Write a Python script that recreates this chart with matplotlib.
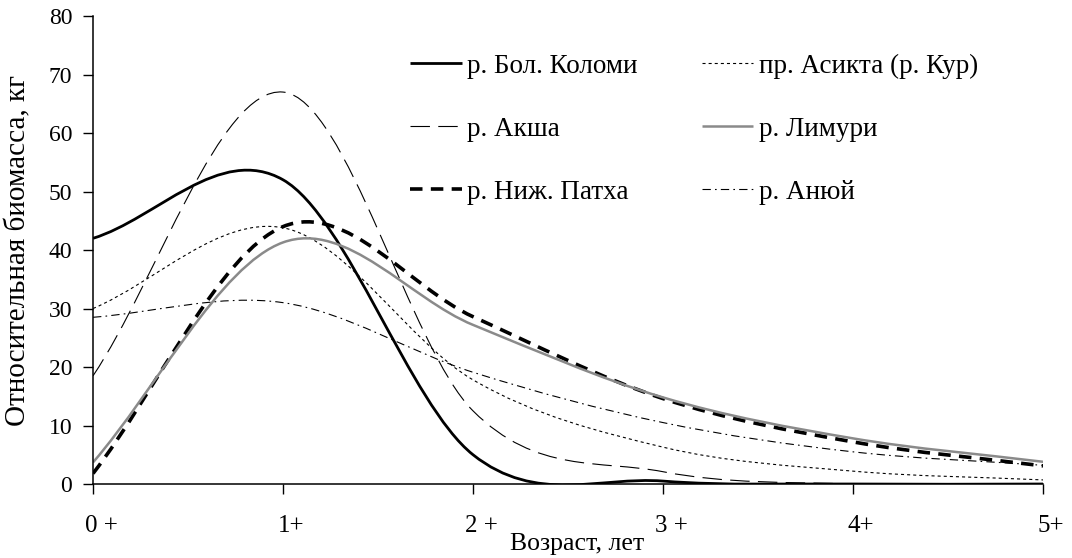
import matplotlib
matplotlib.use('Agg')
import matplotlib.pyplot as plt
import matplotlib.transforms as mtransforms
from matplotlib.path import Path
from matplotlib.patches import PathPatch
from matplotlib.lines import Line2D
import numpy as np

plt.rcParams['font.family'] = ['Liberation Serif', 'DejaVu Serif']
plt.rcParams['lines.scale_dashes'] = False

ages = [0, 1, 2, 3, 4, 5]
age_labels = ['0 +', '1+', '2 +', '3 +', '4+', '5+']

kolomi = [42, 52, 5, 0.5, 0, 0]
asikta = [30, 43.8, 17.8, 6.3, 2.2, 0.7]
aksha = [18.5, 67, 12.5, 2.1, 0, 0]
limuri = [3.7, 41.3, 27.2, 14.8, 7.8, 3.8]
patkha = [1.8, 44, 28.6, 14.6, 7.2, 3.1]
anyui = [28.5, 31, 19.1, 10.5, 5.5, 3.2]


def smooth_path(x, y):
    # excel-like smoothed line: cubic bezier, catmull-rom tangents
    x = np.asarray(x, float)
    y = np.asarray(y, float)
    n = len(x)
    m = np.zeros(n)
    for i in range(n):
        if i == 0:
            m[i] = (y[1] - y[0]) / (x[1] - x[0])
        elif i == n - 1:
            m[i] = (y[-1] - y[-2]) / (x[-1] - x[-2])
        else:
            m[i] = (y[i + 1] - y[i - 1]) / (x[i + 1] - x[i - 1])
    verts = [(x[0], y[0])]
    codes = [Path.MOVETO]
    for i in range(n - 1):
        dx = (x[i + 1] - x[i]) / 3
        verts += [(x[i] + dx, y[i] + m[i] * dx),
                  (x[i + 1] - dx, y[i + 1] - m[i + 1] * dx),
                  (x[i + 1], y[i + 1])]
        codes += [Path.CURVE4] * 3
    return Path(verts, codes)


series = [
    ('р. Бол. Коломи', kolomi, dict(color='black', lw=2.0, ls='-')),
    ('р. Акша', aksha, dict(color='black', lw=0.8, ls=(0, (14, 6)))),
    ('р. Ниж. Патха', patkha, dict(color='black', lw=2.6, ls=(0, (9, 6)))),
    ('пр. Асикта (р. Кур)', asikta, dict(color='black', lw=0.8, ls=(0, (2.2, 2.2)))),
    ('р. Лимури', limuri, dict(color='#8a8a8a', lw=1.8, ls='-')),
    ('р. Анюй', anyui, dict(color='black', lw=0.8, ls=(0, (6, 3, 1.2, 3)))),
]

fig = plt.figure(figsize=(10.72, 5.58), dpi=100)
ax = fig.add_axes([0.0868, 0.1326, 0.8862, 0.8387])

handles = []
for name, vals, st in series:
    p = PathPatch(smooth_path(ages, vals), fill=False, edgecolor=st['color'],
                  lw=st['lw'], linestyle=st['ls'], capstyle='butt', joinstyle='round')
    ax.add_patch(p)
    handles.append(Line2D([], [], color=st['color'], lw=st['lw'], ls=st['ls'],
                          solid_capstyle='butt', dash_capstyle='butt', label=name))

ax.set_xlim(0, 5)
ax.set_ylim(0, 80)
ax.set_yticks(range(0, 81, 10))
ax.set_xticks(ages)
ax.set_xticklabels(age_labels)

for s in ['top', 'right']:
    ax.spines[s].set_visible(False)
for s in ['left', 'bottom']:
    ax.spines[s].set_linewidth(1.1)
    ax.spines[s].set_color('black')

ax.tick_params(axis='y', direction='out', length=7, width=1, pad=8, labelsize=17)
ax.tick_params(axis='x', direction='out', length=7, width=1, pad=15, labelsize=18)

offset = mtransforms.ScaledTranslation(8 / 100, 0, fig.dpi_scale_trans)
for lab in ax.get_xticklabels():
    lab.set_transform(lab.get_transform() + offset)

ax.set_ylabel('Относительная биомасса, кг', fontsize=21, va='center')
ax.yaxis.set_label_coords(-0.079, 0.5)
ax.set_xlabel('Возраст, лет', fontsize=18.5, va='center')
ax.xaxis.set_label_coords(0.5095, -0.128)

ax.legend(handles=handles, ncol=2, frameon=False, fontsize=19.5,
          loc='upper left', bbox_to_anchor=(0.334, 0.920),
          handlelength=1.9, handletextpad=0.2, columnspacing=2.37,
          labelspacing=1.41, borderaxespad=0, borderpad=0)

fig.savefig('out.png', dpi=100)
